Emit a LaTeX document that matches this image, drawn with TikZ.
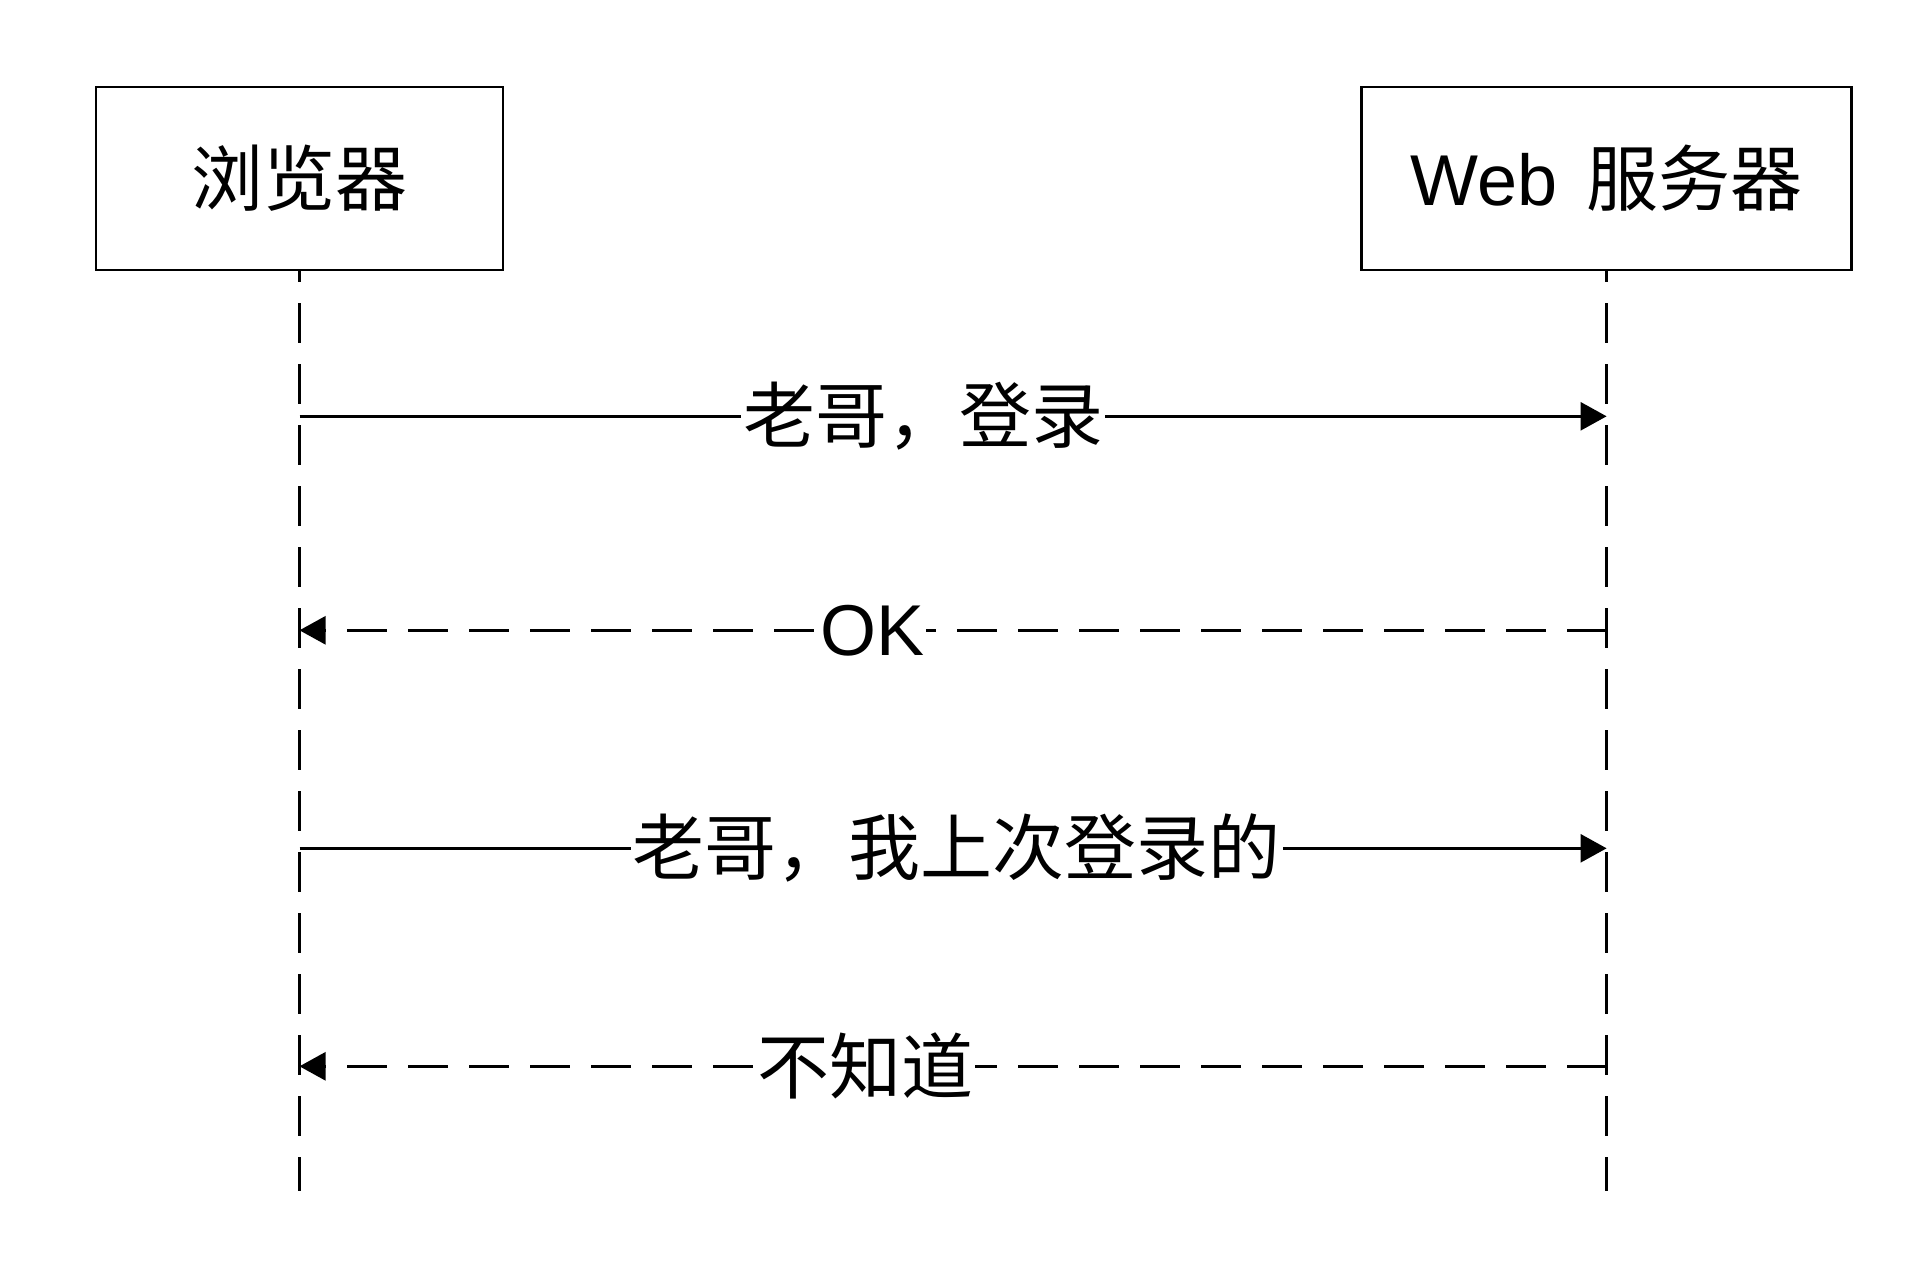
\documentclass[tikz,border=0pt]{standalone}
\usepackage{fontspec}
\setmainfont{Liberation Sans}
\newfontfamily\cjk{Noto Sans CJK SC}
\usepackage{tikz}
\usetikzlibrary{positioning}
\usetikzlibrary{arrows.meta}
\tikzset{actor/.style = {draw, line width=1.3pt, minimum height=91.5pt, align=center, text centered, font=\fontsize{36}{40}\selectfont}}
\tikzset{life/.style = {line width=1.3pt, dash pattern=on 20pt off 10.5pt, dash phase=14.5pt}}
\tikzset{call/.style = {line width=1.3pt, -{Triangle[length=13pt, width=14pt]}}}
\tikzset{reply/.style = {call, dash pattern=on 20pt off 10.5pt}}
\tikzset{msg/.style = {fill=white, inner sep=1pt, font=\fontsize{36}{40}\selectfont}}

\begin{document}
\begin{tikzpicture}[x=0.5pt, y=-0.5pt,
  node distance = 428pt
]
\useasboundingbox (0,0) rectangle (1912,1280);

\node[actor, minimum width=203.5pt] (browser) at (299.5,178.5) {\cjk 浏览器};
\node[actor, minimum width=245pt, right=of browser] (server) {Web\hspace{0.4em}{\cjk 服务器}};

% lifelines
\coordinate[below=460pt of browser.south] (browser end);
\coordinate[below=460pt of server.south] (server end);
\draw[life] (browser) -- (browser end);
\draw[life] (server) -- (server end);

% message ends on the lifelines
\coordinate[below=72.5pt of browser.south] (b1);
\coordinate[below=179.5pt of browser.south] (b2);
\coordinate[below=288.5pt of browser.south] (b3);
\coordinate[below=397.5pt of browser.south] (b4);
\coordinate[below=72.5pt of server.south] (s1);
\coordinate[below=179.5pt of server.south] (s2);
\coordinate[below=288.5pt of server.south] (s3);
\coordinate[below=397.5pt of server.south] (s4);

\draw[call]  (b1) -- (s1) node[msg, pos=.477] {\cjk 老哥，登录};
\draw[reply] (s2) -- (b2) node[msg, pos=.562] {OK};
\draw[call]  (b3) -- (s3) node[msg, pos=.503] {\cjk 老哥，我上次登录的};
\draw[reply] (s4) -- (b4) node[msg, pos=.567] {\cjk 不知道};

\end{tikzpicture}
\end{document}
